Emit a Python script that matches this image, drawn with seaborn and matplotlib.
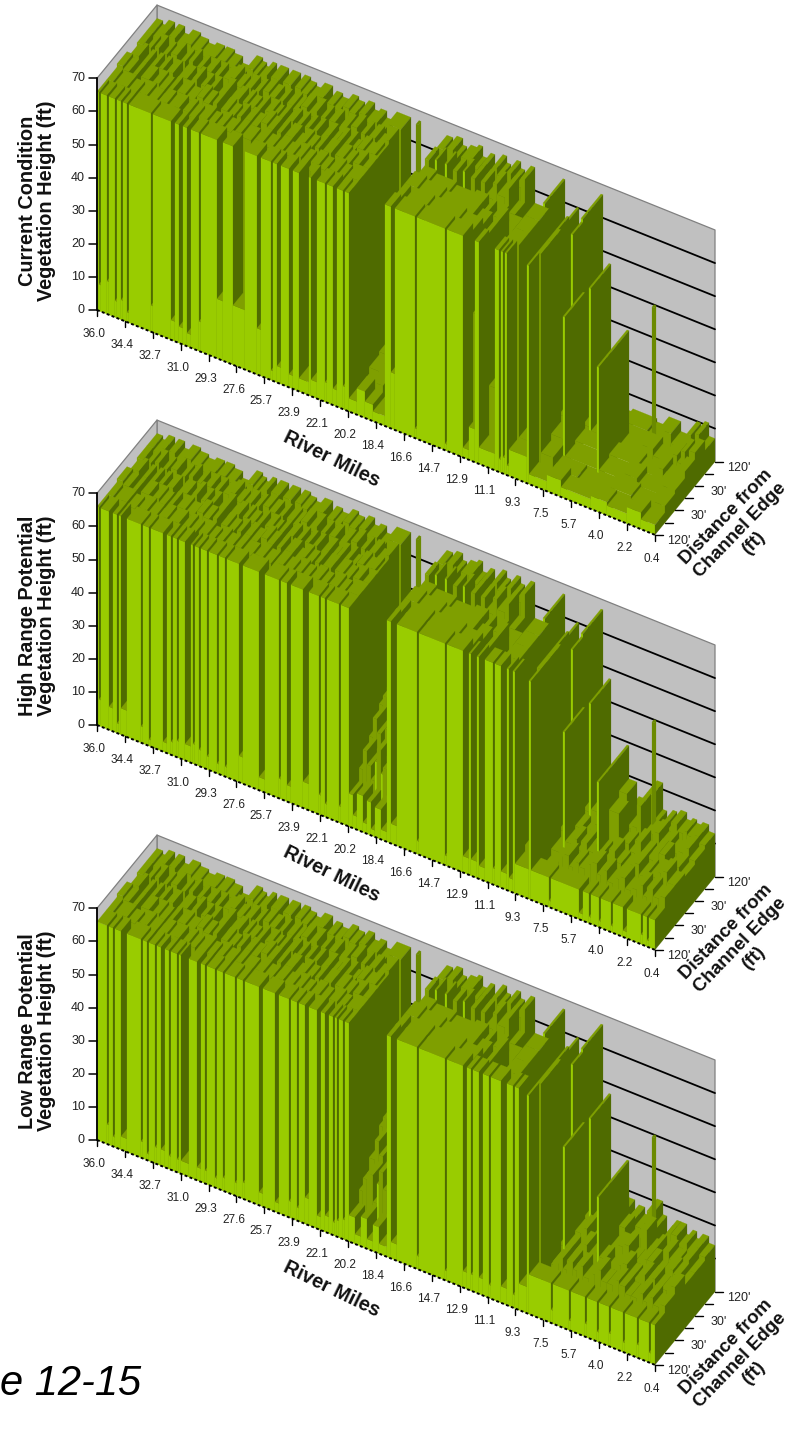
import matplotlib
matplotlib.use("Agg")
import matplotlib.pyplot as plt
from matplotlib.collections import PolyCollection
import seaborn as sns

# ---------- data: (start station along river, height in ft); a segment runs to the next start
N_STATIONS = 279
MILE_LABELS = ["36.0","34.4","32.7","31.0","29.3","27.6","25.7","23.9","22.1","20.2","18.4",
               "16.6","14.7","12.9","11.1","9.3","7.5","5.7","4.0","2.2","0.4"]
HEIGHT_TICKS = [0,10,20,30,40,50,60,70]
DEPTH_LABELS = ["120'","","30'","","30'","","120'"]
TITLES = ["Current Condition\nVegetation Height (ft)",
          "High Range Potential\nVegetation Height (ft)",
          "Low Range Potential\nVegetation Height (ft)"]

P1_FRONT = [(0,66),(1,8),(2,66),(5,10),(6,66),(9,5),(10,66),(12,6),(13,66),(15,3),(16,66),(27,8),(28,66),
 (37,6),(39,66),(41,5),(43,66),(45,4),(47,66),(51,9),(52,66),(60,18),(63,66),(68,18),(74,66),(80,14),(82,66),
 (87,3),(88,66),(90,5),(92,66),(96,4),(98,66),(101,4),(106,66),(107,5),(110,66),(114,6),(115,66),(118,5),
 (120,66),(123,7),(124,66),(126,4),(130,8),(134,5),(138,3),(144,67),(147,17),(149,67),(159,3),(160,67),
 (174,2),(175,67),(183,3),(186,10),(189,67),(191,5),(199,67),(201,4),(202,67),(203,5),(204,67),(205,3),
 (206,8),(215,66),(216,3),(225,5),(232,3),(247,4),(255,3),(265,5),(272,3)]
P2_FRONT = [(0,66),(1,8),(2,66),(6,7),(8,66),(10,3),(11,66),(12,8),(15,66),(22,5),(23,66),(26,2),(27,66),
 (33,3),(35,66),(37,4),(38,66),(40,5),(41,66),(44,5),(47,66),(48,6),(49,66),(51,5),(52,66),(55,4),(56,66),
 (60,3),(61,66),(64,3),(65,66),(71,8),(73,66),(81,4),(84,66),(91,6),(92,66),(95,5),(97,66),(103,8),(106,66),
 (111,6),(112,66),(114,4),(115,66),(121,5),(122,66),(126,10),(128,4),(130,11),(133,3),(135,10),(137,2),
 (139,9),(142,3),(145,67),(147,6),(150,67),(160,4),(161,67),(174,3),(175,67),(183,5),(186,67),(187,5),
 (190,67),(191,4),(194,67),(198,5),(199,67),(202,5),(205,67),(206,4),(208,67),(209,9),(216,66),(217,9),
 (226,2),(227,9),(241,2),(243,9),(246,2),(247,9),(251,2),(252,9),(257,2),(258,9),(263,2),(265,9),(272,3),
 (273,9),(275,2),(276,9)]
P3_FRONT = [(0,66),(5,6),(6,66),(8,3),(9,66),(12,4),(15,66),(22,5),(23,66),(25,2),(26,66),(29,5),(30,66),
 (32,5),(34,66),(36,4),(37,66),(40,4),(41,66),(42,4),(46,66),(50,4),(52,66),(54,4),(55,66),(59,3),(60,66),
 (63,4),(64,66),(69,4),(70,66),(73,5),(74,66),(81,4),(83,66),(89,3),(91,66),(96,5),(97,66),(100,4),(101,66),
 (104,8),(106,66),(110,4),(112,66),(114,5),(116,66),(118,4),(119,66),(120,5),(121,66),(123,6),(124,66),
 (126,8),(129,3),(132,9),(135,3),(138,8),(141,3),(145,67),(147,5),(150,67),(160,4),(161,67),(174,3),(175,67),
 (183,5),(185,67),(187,5),(188,67),(191,5),(193,67),(196,4),(197,67),(202,5),(205,67),(208,4),(209,67),
 (211,8),(215,66),(216,12),(227,4),(228,12),(236,3),(237,12),(244,4),(245,12),(250,3),(251,12),(256,4),
 (257,12),(263,3),(264,12),(270,4),(271,12),(276,3),(277,12)]

ROW1_A = [(0,66),(3,65),(6,66),(10,65),(14,63),(16,66),(20,65),(24,64),(26,66),(30,65),(33,66),(36,62),(38,66),
 (41,65),(44,63),(46,66),(50,65),(53,64),(55,66),(58,65),(62,60),(64,66),(67,65),(72,62),(74,66),(78,65),(82,64),
 (84,66),(88,65),(92,61),(94,66),(97,65),(100,63),(102,66),(106,65),(109,62),(111,66),(115,65),(118,64),(120,66)]
ROW2_A = [(0,67),(3,66),(6,60),(8,66),(10,59),(12,66),(16,60),(18,66),(21,65),(24,58),(26,66),(28,58),(30,66),
 (34,65),(38,62),(40,67),(43,66),(46,64),(48,67),(50,60),(52,66),(55,65),(58,59),(60,66),(62,58),(64,66),(67,65),
 (70,61),(72,67),(75,66),(78,60),(80,66),(82,59),(84,66),(88,64),(91,66),(94,65),(97,58),(99,66),(101,57),(103,66),
 (107,62),(109,66),(113,65),(116,60),(118,66),(121,60),(123,66)]
ROW3_A = [(0,65),(2,66),(4,67),(6,58),(8,66),(10,56),(12,66),(14,57),(16,66),(18,64),(20,66),(23,60),(25,65),(27,66),
 (30,64),(33,67),(35,57),(37,66),(39,56),(41,66),(43,58),(45,65),(48,67),(50,64),(53,66),(56,62),(58,66),(60,65),
 (63,56),(65,66),(67,58),(69,66),(72,65),(74,60),(76,66),(78,64),(80,66),(83,57),(85,66),(87,56),(89,66),(91,58),
 (93,66),(95,62),(97,65),(99,66),(101,64),(103,55),(105,66),(107,57),(109,66),(111,64),(113,60),(115,66),(118,65),
 (121,66),(124,62),(125,66)]
ROW4_A = [(0,66),(3,60),(5,66),(7,64),(9,67),(11,55),(13,66),(15,56),(17,67),(20,58),(22,66),(24,64),(26,67),(28,52),
 (30,66),(32,54),(34,66),(37,64),(39,66),(41,58),(43,66),(46,67),(49,65),(52,56),(54,66),(57,64),(59,66),(61,60),
 (63,67),(66,66),(69,54),(71,66),(73,55),(75,66),(78,65),(80,60),(82,67),(85,65),(88,67),(90,55),(92,66),(94,56),
 (96,66),(99,63),(102,66),(105,62),(107,67),(110,56),(112,66),(114,57),(116,66),(119,64),(122,60),(124,67)]
ROW5_A = [(0,66),(3,65),(6,67),(9,64),(11,67),(14,65),(17,62),(18,67),(22,66),(26,65),(30,66),(34,60),(35,66),(39,65),
 (43,63),(47,60),(50,67),(53,66),(55,65),(58,67),(60,60),(62,67),(66,60),(68,67),(72,62),(74,67),(77,66),(80,65),
 (84,67),(88,62),(90,66),(93,65),(96,60),(98,67),(101,66),(104,63),(106,67),(109,65),(112,66),(115,64),(118,60),(120,67)]

ROW1_B = [(144,66),(147,40),(149,66),(159,64),(160,66),(175,65),(183,40),(186,30),(189,66),(191,20),(199,66),
 (206,8),(215,66),(217,6)]
ROW2_B = [(144,66),(150,65),(160,64),(170,65),(178,63),(183,60),(186,50),(189,66),(191,30),(197,45),(199,66),
 (206,12),(215,66),(217,8)]
ROW3_B = [(144,64),(150,63),(160,62),(170,63),(176,60),(178,62),(180,56),(183,62),(186,56),(189,60),(193,50),(197,60),
 (199,66),(206,10),(215,66),(216,10),(222,66)]
ROW4_B = [(144,66),(146,58),(149,67),(150,57),(154,67),(155,59),(158,66),(160,57),(163,67),(164,58),(167,66),(169,58),
 (172,66),(174,62),(178,67),(180,64),(184,67),(186,60),(189,10),(203,67),(204,8),(215,65),(216,8),(222,67)]
ROW5_B = [(145,66),(148,64),(150,67),(153,65),(155,62),(157,66),(161,67),(163,64),(165,60),(167,66),(169,63),(171,58),
 (173,67),(175,65),(177,64),(180,67),(182,65),(184,64),(187,67),(189,3),(203,67),(204,5),(222,67)]

GAP_ROW4 = [(126,4)]
GAP_ROW5 = [(127,3)]

P1_MID1 = [(126,4),(132,7),(138,3)]
P1_MID2 = [(126,6),(131,9),(137,4)]
P1_MID3 = [(126,7),(130,4),(136,10)]
P2_MID1 = [(126,14),(128,20),(130,16),(132,12),(134,18),(135,22),(137,15),(138,17),(140,21),(142,24)]
P2_MID2 = [(126,20),(128,26),(130,22),(132,18),(134,24),(136,28),(138,23),(140,22),(142,26)]
P2_MID3 = [(126,26),(128,29),(130,32),(132,27),(134,24),(136,29),(138,30),(141,26)]
P3_MID1 = [(126,12),(128,16),(130,18),(133,10),(135,16),(136,20),(138,15),(140,14),(142,18)]
P3_MID2 = [(126,18),(129,24),(131,20),(133,16),(135,22),(137,26),(139,21),(141,20)]
P3_MID3 = [(126,24),(128,27),(130,30),(132,25),(134,22),(136,26),(138,28),(141,24)]

P1_TAIL1 = [(223,3),(235,2),(250,4),(262,3),(272,5)]
P1_TAIL2 = [(223,45),(224,3),(240,34),(241,3),(252,5),(260,3),(270,6)]
P1_TAIL3 = [(223,45),(224,4),(240,34),(241,4),(255,3),(263,6),(268,4),(275,8)]
P1_TAIL4 = [(223,5),(226,47),(227,4),(240,34),(241,3),(250,6),(258,4),(265,7),(270,5),(272,9),(274,5),(276,10)]
P1_TAIL5 = [(223,6),(226,47),(227,5),(238,6),(250,5),(256,8),(262,5),(268,6),(270,10),(272,6),(274,11),(276,7)]
P2_TAIL1 = [(223,10),(226,12),(228,13),(231,10),(233,12),(236,11),(239,13),(242,14),(245,11),(247,13),(250,10),(253,12),
 (256,13),(259,10),(262,11),(265,13),(268,10),(270,13),(273,11),(276,12)]
P2_TAIL2 = [(223,45),(224,12),(227,14),(230,11),(232,14),(235,12),(238,15),(240,34),(241,13),(243,11),(246,15),(249,12),
 (252,11),(255,13),(258,14),(261,11),(264,13),(266,12),(269,14),(272,15),(275,12)]
P2_TAIL3 = [(223,45),(224,13),(227,11),(230,14),(232,16),(235,13),(238,15),(240,34),(241,22),(246,13),(248,14),(251,12),
 (254,16),(257,13),(260,12),(263,15),(266,15),(269,11),(273,13),(276,11)]
P2_TAIL4 = [(223,14),(226,47),(227,15),(230,12),(232,14),(234,13),(237,15),(240,34),(241,24),(245,14),(247,15),(250,22),
 (252,13),(255,15),(258,16),(261,13),(263,14),(266,12),(270,13),(273,15),(276,12)]
P2_TAIL5 = [(223,15),(226,47),(227,14),(230,16),(233,13),(236,16),(239,14),(241,15),(244,14),(247,16),(250,22),(253,14),
 (255,4),(258,15),(260,13),(262,16),(265,14),(268,15),(270,14),(273,15),(276,13)]
P3_TAIL1 = [(223,14),(226,16),(228,13),(230,16),(233,14),(235,16),(238,13),(241,15),(244,17),(247,14),(250,14),(253,16),
 (256,15),(259,13),(262,13),(265,15),(268,13),(270,15),(273,13),(276,14)]
P3_TAIL2 = [(223,45),(224,15),(227,13),(230,16),(232,18),(235,15),(238,17),(240,34),(241,16),(244,13),(247,14),(249,16),
 (252,17),(255,14),(258,13),(261,16),(264,14),(266,16),(269,14),(272,14),(275,16)]
P3_TAIL3 = [(223,45),(224,16),(227,18),(230,14),(232,14),(235,17),(238,15),(240,34),(241,15),(244,17),(248,18),(251,14),
 (254,14),(257,16),(260,16),(263,13),(266,13),(269,16),(273,15),(276,13)]
P3_TAIL4 = [(223,16),(226,47),(227,17),(230,14),(232,16),(234,14),(237,17),(240,34),(241,18),(244,14),(247,15),(250,17),
 (252,20),(255,14),(258,16),(260,13),(263,16),(266,14),(270,13),(273,16),(276,13)]
P3_TAIL5 = [(223,17),(226,47),(227,15),(230,18),(233,15),(236,18),(239,15),(241,17),(244,15),(247,17),(250,21),(253,17),
 (255,5),(258,15),(260,17),(262,17),(265,14),(268,16),(270,14),(273,16),(276,14)]

SPIKES = [(132,5.5,68,0.3),(250,5.5,41.5,0.2)]   # station, depth row, height, thickness

PANELS = [
 [P1_FRONT, ROW1_A+P1_MID1+ROW1_B+P1_TAIL1, ROW2_A+P1_MID2+ROW2_B+P1_TAIL2, ROW3_A+P1_MID3+ROW3_B+P1_TAIL3,
  ROW4_A+GAP_ROW4+ROW4_B+P1_TAIL4, ROW5_A+GAP_ROW5+ROW5_B+P1_TAIL5],
 [P2_FRONT, ROW1_A+P2_MID1+ROW1_B+P2_TAIL1, ROW2_A+P2_MID2+ROW2_B+P2_TAIL2, ROW3_A+P2_MID3+ROW3_B+P2_TAIL3,
  ROW4_A+GAP_ROW4+ROW4_B+P2_TAIL4, ROW5_A+GAP_ROW5+ROW5_B+P2_TAIL5],
 [P3_FRONT, ROW1_A+P3_MID1+ROW1_B+P3_TAIL1, ROW2_A+P3_MID2+ROW2_B+P3_TAIL2, ROW3_A+P3_MID3+ROW3_B+P3_TAIL3,
  ROW4_A+GAP_ROW4+ROW4_B+P3_TAIL4, ROW5_A+GAP_ROW5+ROW5_B+P3_TAIL5],
]

# ---------- style and oblique projection
sns.set_theme(style="white")
plt.rcParams["font.family"] = ["Liberation Sans", "DejaVu Sans"]

BRIGHT, TOPC, DARK, POLE = "#99CC00", "#7F9F00", "#4F6B00", "#6B8A00"
WALL, WALL_EDGE = "#C0C0C0", "#808080"
X0 = 97
ORIGINS = [310, 725, 1140]
DX_S, DY_S = 2.0, 0.806      # per station
DX_R, DY_R = 10.0, -12.2     # per depth row
SC_H = 3.31                  # per foot

def proj(y0, s, r, h=0.0):
    return (X0 + DX_S*s + DX_R*r, y0 + DY_S*s + DY_R*r - SC_H*h)

fig = plt.figure(figsize=(8.03, 14.40), dpi=100, facecolor="white")
ax = fig.add_axes([0, 0, 1, 1])
ax.set_xlim(0, 803)
ax.set_ylim(1440, 0)
ax.axis("off")

def line(xs, ys, **kw):
    sns.lineplot(x=xs, y=ys, ax=ax, sort=False, estimator=None, legend=False, **kw)

def bar_faces(y0, s0, s1, r, h, th=1.0):
    front = [proj(y0,s0,r), proj(y0,s1,r), proj(y0,s1,r,h), proj(y0,s0,r,h)]
    top = [proj(y0,s0,r,h), proj(y0,s1,r,h), proj(y0,s1,r+th,h), proj(y0,s0,r+th,h)]
    side = [proj(y0,s1,r), proj(y0,s1,r+th), proj(y0,s1,r+th,h), proj(y0,s1,r,h)]
    return front, top, side

for p, y0 in enumerate(ORIGINS):
    # walls
    back = [proj(y0,0,6), proj(y0,N_STATIONS,6), proj(y0,N_STATIONS,6,70), proj(y0,0,6,70)]
    left = [proj(y0,0,0), proj(y0,0,6), proj(y0,0,6,70), proj(y0,0,0,70)]
    ax.add_collection(PolyCollection([back, left], facecolors=WALL, edgecolors=WALL_EDGE, linewidths=0.9, zorder=1))
    for h in HEIGHT_TICKS[1:-1]:
        a, b = proj(y0,0,6,h), proj(y0,N_STATIONS,6,h)
        line([a[0],b[0]], [a[1],b[1]], color="black", linewidth=1.3, zorder=2)

    # bars, painted back to front, left to right
    polys, cols = [], []
    for r in range(5, -1, -1):
        if r == 4:
            for s, rr, h, th in SPIKES:
                f, t, d = bar_faces(y0, s, s+1, rr, h, th)
                polys += [f, t, d]; cols += [POLE, POLE, POLE]
        segs = PANELS[p][r]
        for i, (s0, h) in enumerate(segs):
            s1 = segs[i+1][0] if i+1 < len(segs) else N_STATIONS
            f, t, d = bar_faces(y0, s0, s1, r, h)
            face = BRIGHT if (r == 0 or s1 - s0 < 2) else TOPC
            polys += [f, t, d]; cols += [face, TOPC, DARK]
    ax.add_collection(PolyCollection(polys, facecolors=cols, edgecolors=cols, linewidths=0.15, zorder=3))

    # height axis
    a, b = proj(y0,0,0,0), proj(y0,0,0,70)
    line([a[0],b[0]], [a[1],b[1]], color="black", linewidth=1.3, zorder=4)
    for h in HEIGHT_TICKS:
        x, y = proj(y0,0,0,h)
        line([x-8,x], [y,y], color="black", linewidth=1.1, zorder=4)
        ax.text(x-12, y, str(h), ha="right", va="center", fontsize=9, color="#222222")

    # river axis
    a, b = proj(y0,0,0), proj(y0,N_STATIONS,0)
    ax.plot([a[0],b[0]], [a[1],b[1]], color="black", linewidth=1.4, linestyle=(0,(1.5,1.2)), zorder=4)
    for i, lab in enumerate(MILE_LABELS):
        x, y = proj(y0, i*N_STATIONS/20, 0)
        line([x,x], [y,y+6], color="black", linewidth=1.0, zorder=4)
        ax.text(x-3, y+24, lab, ha="center", va="center", fontsize=8.5, color="#222222")

    # depth axis
    for r, lab in enumerate(DEPTH_LABELS):
        x, y = proj(y0, N_STATIONS, r)
        line([x,x+8], [y,y], color="black", linewidth=1.0, zorder=4)
        if lab:
            ax.text(x+24, y+6, lab, ha="center", va="center", fontsize=9, color="#222222")

    # axis titles
    ax.text(37, y0-109, TITLES[p], rotation=90, ha="center", va="center", fontsize=14.3,
            fontweight="bold", linespacing=1.0, color="#111111", multialignment="center")
    ax.text(332, y0+149, "River Miles", rotation=-26, ha="center", va="center", fontsize=14.3,
            fontweight="bold", color="#111111", rotation_mode="anchor")
    ax.text(740, y0+220, "Distance from\nChannel Edge\n(ft)", rotation=46, ha="center", va="center",
            fontsize=13.5, fontweight="bold", linespacing=1.15, color="#111111",
            multialignment="center", rotation_mode="anchor")

ax.text(0, 1395, "e 12-15", ha="left", va="baseline", fontsize=30, fontstyle="italic", color="black")

fig.savefig("out.png", dpi=100, facecolor="white")
